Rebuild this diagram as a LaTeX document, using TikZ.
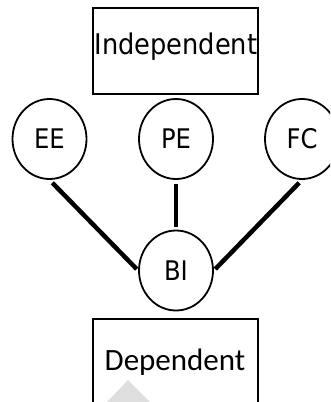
\documentclass[tikz,border=0pt]{standalone}
\usepackage{fontspec}
\setmainfont{DejaVu Sans Condensed}
\newfontfamily\carlito{Carlito}
\usetikzlibrary{shapes.geometric}
\begin{document}
\begin{tikzpicture}[x=1pt,y=-1pt,
  boxnode/.style={draw,line width=2.4pt,minimum width=165pt,inner sep=0pt},
  varnode/.style={draw,ellipse,line width=1.8pt,minimum width=74pt,minimum height=80pt,inner sep=0pt,font=\fontsize{27}{32}\selectfont},
  link/.style={line width=4.5pt}]
\useasboundingbox (0,0) rectangle (330,402);
\clip (0,0) rectangle (330,402);
\fill[white] (0,0) rectangle (330,402);
% faint watermark
\fill[black!13] (128,380) -- (150,402) -- (107,402) -- cycle;
\node[boxnode,minimum height=86pt] (ind) at (175.5,51) {};
\node[font=\fontsize{28.5}{34}\selectfont] (indt) at (176,47) {Independent};
\node[boxnode,minimum height=100pt,anchor=north] (dep) at (175.5,318) {};
\node[font=\carlito\fontsize{31}{36}\selectfont] (dept) at (175,362) {Dependent};
\node[varnode] (EE) at (49.5,139) {EE};
\node[varnode] (PE) at (176,139) {PE};
\node[varnode] (FC) at (302,139) {FC};
\node[varnode] (BI) at (176,270.5) {BI};
\draw[link,shorten <=4pt,shorten >=2pt] (EE.south) -- (BI.west);
\draw[link,shorten <=4pt,shorten >=3pt] (PE.south) -- (BI.north);
\draw[link,shorten <=4pt,shorten >=2pt] (FC.south) -- (BI.east);
\end{tikzpicture}
\end{document}
